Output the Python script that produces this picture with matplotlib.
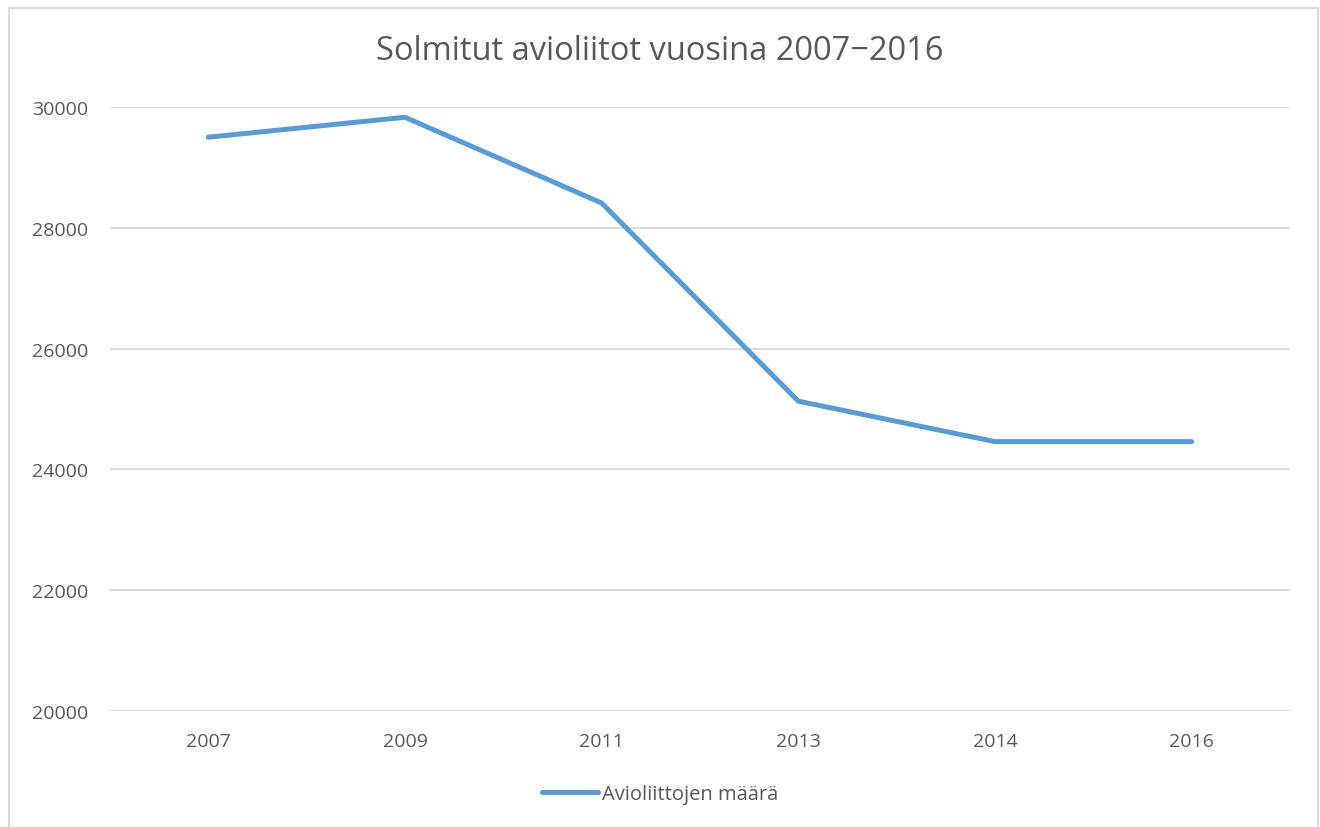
import matplotlib.pyplot as plt
from matplotlib.patches import Rectangle

plt.rcParams['font.family'] = ['Open Sans', 'DejaVu Sans']

# Data
years = ['2007', '2009', '2011', '2013', '2014', '2016']
marriages = [29500, 29830, 28410, 25130, 24460, 24460]
yticks = [20000, 22000, 24000, 26000, 28000, 30000]

text_col = '#595959'
grid_col = '#d9d9d9'
line_col = '#5b9bd5'

fig = plt.figure(figsize=(13.2, 8.28), dpi=100)
ax = fig.add_axes([110/1320, 1 - 712/828, 1180/1320, 604/828])

x = range(len(years))
ax.plot(x, marriages, color=line_col, lw=3.6, solid_capstyle='round',
        solid_joinstyle='round', label='Avioliittojen määrä')

ax.set_xlim(-0.5, len(years) - 0.5)
ax.set_ylim(20000, 30000)
ax.set_yticks(yticks)
ax.set_yticklabels([str(v) for v in yticks])
ax.set_xticks(list(x))
ax.set_xticklabels(years)
ax.tick_params(length=0, labelsize=14, labelcolor=text_col)
ax.tick_params(axis='y', pad=16)
ax.tick_params(axis='x', pad=15)
ax.grid(axis='y', color=grid_col, lw=1.3)
ax.set_axisbelow(True)
for s in ax.spines.values():
    s.set_visible(False)

fig.text(0.5, 1 - 52/828, 'Solmitut avioliitot vuosina 2007\u22122016',
         ha='center', va='center', fontsize=23.5, color=text_col)

leg = fig.legend(loc='center', bbox_to_anchor=(0.5, 1 - 795/828), frameon=False,
                 fontsize=14.5, handlelength=2.8, handletextpad=0.2)
for t in leg.get_texts():
    t.set_color(text_col)

# chart border
fig.patches.append(Rectangle((9/1320, -0.01), 1309/1320, 1 - 9/828 + 0.01,
                             transform=fig.transFigure, fill=False,
                             edgecolor=grid_col, lw=1.5))

fig.savefig('out.png', dpi=100)
